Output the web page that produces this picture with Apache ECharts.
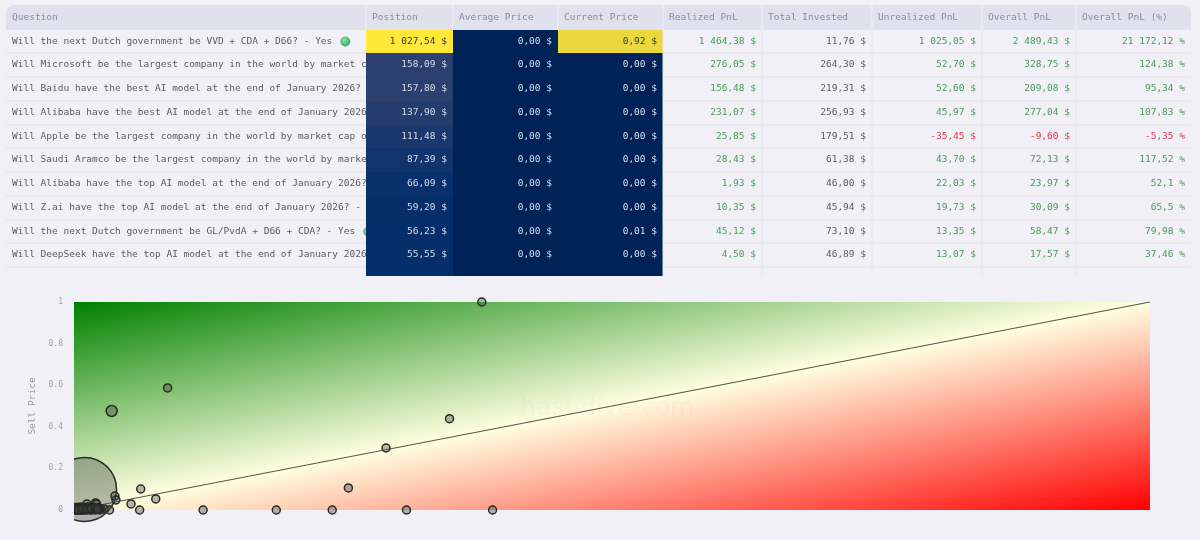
<!DOCTYPE html>
<html><head><meta charset="utf-8">
<style>html,body{margin:0;padding:0;background:#f0f0f6}#c{width:1200px;height:540px}</style>
<script src="https://cdn.jsdelivr.net/npm/echarts@6/dist/echarts.min.js"></script>
</head><body><div id="c"></div>
<script>
const headers=["Question","Position","Average Price","Current Price","Realized PnL","Total Invested","Unrealized PnL","Overall PnL","Overall PnL (%)"];
const questions=[
"Will the next Dutch government be VVD + CDA + D66? - Yes",
"Will Microsoft be the largest company in the world by market c",
"Will Baidu have the best AI model at the end of January 2026?",
"Will Alibaba have the best AI model at the end of January 2026",
"Will Apple be the largest company in the world by market cap o",
"Will Saudi Aramco be the largest company in the world by market",
"Will Alibaba have the top AI model at the end of January 2026?",
"Will Z.ai have the top AI model at the end of January 2026? -",
"Will the next Dutch government be GL/PvdA + D66 + CDA? - Yes",
"Will DeepSeek have the top AI model at the end of January 2026"];
const position=[1027.54,158.09,157.80,137.90,111.48,87.39,66.09,59.20,56.23,55.55];
const averagePrice=[0,0,0,0,0,0,0,0,0,0];
const currentPrice=[0.92,0,0,0,0,0,0,0,0.01,0];
const realizedPnl=[1464.38,276.05,156.48,231.07,25.85,28.43,1.93,10.35,45.12,4.50];
const totalInvested=[11.76,264.30,219.31,256.93,179.51,61.38,46.00,45.94,73.10,46.89];
const unrealizedPnl=[1025.05,52.70,52.60,45.97,-35.45,43.70,22.03,19.73,13.35,13.07];
const overallPnl=[2489.43,328.75,209.08,277.04,-9.60,72.13,23.97,30.09,58.47,17.57];
const overallPct=[21172.12,124.38,95.34,107.83,-5.35,117.52,52.1,65.5,79.98,37.46];
const buyPrice=[0.0098,0.379,0.087,0.035,0.349,0.29,0.255,0.24,0.309,0.389,0.188,0.12,0.061,0.062,0.053,0.076,0.038,0.039,0.033,
0.001,0.003,0.005,0.006,0.008,0.01,0.012,0.013,0.015,0.017,0.012,0.02,0.021,0.023,0.025,0.028,0.002,0.007,0.011,0.016,0.018,0.004,
0.001,0.002,0.003,0.004,0.005,0.006,0.007,0.008,0.009,0.01,0.011,0.012,0.013,0.014,0.015,0.016,0.019,0.02,0.021,0.022,0.023,0.024,0.001,0.003,0.005,0.007,0.009,0.02,0.022,
0.002,0.003,0.004,0.005,0.006,0.007,0.008,0.009,0.01,0.011,0.002,0.004,0.006,0.008,0.01,0.012,0.014,0.016,0.018,0.019,0.021,0.023,0.003,0.005,0.007,0.009,0.011,0.013,0.015,0.017,0.019,0.021,0.024,0.001,0.004,0.008,0.012,0.016,0.02,0.022];
const sellPrice=[0.099,1,0.587,0.476,0.439,0.298,0.106,0,0,0,0,0,0,0.101,0.029,0.053,0.067,0.048,0,
0.005,0.012,0.004,0.014,0.006,0.012,0.003,0.014,0.006,0.012,0.029,0.034,0.029,0.01,0.005,0.005,0.01,0.002,0.008,0.01,0.004,0.008,
0,0.006,0,0.01,0.002,0.007,0,0.011,0.004,0,0.008,0.002,0.006,0.001,0.009,0,0.012,0.002,0.008,0.004,0.01,0,0.012,0.003,0.009,0.002,0.012,0.006,0.002,
0.003,0.009,0.001,0.006,0.011,0.002,0.009,0.001,0.007,0.003,0,0.005,0.001,0.004,0.009,0.001,0.005,0.002,0.009,0.001,0.005,0.007,0.008,0,0.004,0.006,0.004,0.01,0.003,0.007,0.006,0.002,0.007,0.004,0,0.006,0.004,0.006,0.009,0.004];
const pointPosition=[1027.54,16,16,30,16,16,16,16,16,16,16,16,16,16,16,16,16,16,16,
16,16,16,16,16,16,16,16,16,16,16,16,16,16,16,16,16,16,16,16,16,16,
16,16,16,16,16,16,16,16,16,16,16,16,16,16,16,16,16,16,16,16,16,16,16,16,16,16,16,16,16,
16,16,16,16,16,16,16,16,16,16,16,16,16,16,16,16,16,16,16,16,16,16,16,16,16,16,16,16,16,16,16,16,16,16,16,16,16,16,16,16];
const yTicks=[0,0.2,0.4,0.6,0.8,1];
const diagonalX=[0,1], diagonalY=[0,1];

const columnEdges=[6,366,453,558,663,762,872,982,1076,1191];
const FONT='"DejaVu Sans Mono",monospace';
const P={left:74,top:302,w:1076,h:208};
const columns=[null,position,averagePrice,currentPrice,realizedPnl,totalInvested,unrealizedPnl,overallPnl,overallPct];

function money(v,isPct){
  let s=isPct?String(+Math.abs(v).toFixed(2)):Math.abs(v).toFixed(2);
  let [a,b]=s.split('.');
  a=a.replace(/\B(?=(\d{3})+$)/g,' ');
  return (v<0?'-':'')+a+(b?','+b:'')+(isPct?' %':' $');
}
const heatStops=[[0,[0,35,87]],[0.05,[3,46,106]],[0.15,[43,63,112]],[1,[255,232,56]]];
function heat(t){
  t=Math.min(1,Math.max(0,t));
  for(let i=1;i<heatStops.length;i++){
    if(t<=heatStops[i][0]){
      const a=heatStops[i-1],b=heatStops[i],f=(t-a[0])/(b[0]-a[0]);
      return 'rgb('+a[1].map((x,k)=>Math.round(x+(b[1][k]-x)*f)).join(',')+')';
    }
  }
  return 'rgb(255,232,56)';
}
function fillOf(c,r){
  const i=Math.min(r,position.length-1);
  if(c===1) return heat(position[i]/position[0]);
  if(c===2) return heat(averagePrice[i]);
  if(c===3) return currentPrice[i]>0.5?heat(currentPrice[i]):heat(0);
  return null;
}
function textColorOf(c,r){
  if(c===1||c===3) return ((c===1?position[r]/position[0]:currentPrice[r])>0.5)?'#3a3a2a':'#d6dde9';
  if(c===2) return '#d6dde9';
  if(c===0||c===5) return '#5c5c66';
  return columns[c][r]<0?'#e8344e':'#4a9c58';
}

// table cells: [col,row]; row -1 is the header, row == n is the cut-off last row
const cells=[];
for(let r=-1;r<=questions.length;r++) for(let c=0;c<headers.length;c++) cells.push([c,r]);

function renderCell(params,api){
  const c=api.value(0), r=api.value(1), n=questions.length;
  const x0=columnEdges[c], x1=columnEdges[c+1];
  const topV=r===-1?-1.04:r, botV=r===-1?0:(r===n?n+0.37:r+1);
  const y0=Math.round(api.coord([0,topV])[1]), y1=Math.round(api.coord([0,botV])[1]);
  const cy=(y0+y1)/2, kids=[];
  const fill=r>=0?fillOf(c,r):null;
  if(r===-1){
    kids.push({type:'rect',shape:{x:x0,y:y0,width:x1-x0,height:y1-y0,r:c===0?[8,0,0,0]:(c===8?[0,8,0,0]:0)},style:{fill:'#e1e1ee'}});
    if(c>0) kids.push({type:'line',shape:{x1:x0,y1:y0,x2:x0,y2:y1},style:{stroke:'#f0f0f6',lineWidth:1}});
    kids.push({type:'text',style:{x:c===0?12:x0+6,y:cy,text:headers[c],font:'9.5px '+FONT,fill:'#8b8b9b',verticalAlign:'middle',align:'left'}});
  }else if(fill){
    kids.push({type:'rect',shape:{x:x0,y:y0,width:x1-x0,height:y1-y0},style:{fill}});
  }else{
    kids.push({type:'line',shape:{x1:x0,y1:y1,x2:x1,y2:y1},style:{stroke:r===n?'#f0f0f6':'#e3e3ea',lineWidth:1}});
    if(c>3) kids.push({type:'line',shape:{x1:x0,y1:y0,x2:x0,y2:y1},style:{stroke:'#e6e6ee',lineWidth:1}});
  }
  if(r>=0&&r<n){
    if(c===0){
      kids.push({type:'text',style:{x:12,y:cy,text:questions[r],font:'9.5px '+FONT,fill:textColorOf(0,r),verticalAlign:'middle'}});
      if(/Yes$/.test(questions[r])){
        const bx=12+questions[r].length*5.72+13;
        kids.push({type:'circle',shape:{cx:bx,cy:cy,r:5},style:{fill:{type:'radial',x:0.4,y:0.35,r:0.7,colorStops:[{offset:0,color:'#8fe0a0'},{offset:1,color:'#35a56a'}]}}});
      }
    }else{
      kids.push({type:'text',style:{x:x1-6,y:cy,text:money(columns[c][r],c===8),font:'9.5px '+FONT,fill:textColorOf(c,r),verticalAlign:'middle',align:'right'}});
    }
  }
  return {type:'group',children:kids};
}

// colour field: isolines run parallel to the diagonal of the plot
const dl=Math.hypot(P.w,P.h), ux=P.h/dl, uy=P.w/dl;
const cx=P.left+P.w/2, cy=P.top+P.h/2, reach=(P.w/2)*ux+(P.h/2)*uy;
const field={type:'linear',global:true,x:cx-reach*ux,y:cy-reach*uy,x2:cx+reach*ux,y2:cy+reach*uy,
  colorStops:[{offset:0,color:'#008000'},{offset:0.5,color:'#ffffe0'},{offset:1,color:'#ff0000'}]};

const points=buyPrice.map((x,i)=>[x,sellPrice[i],pointPosition[i]]);
const maxPos=Math.max(...pointPosition);
const pad=0.1;

function renderPoint(params,api){
  const p=api.coord([api.value(0),api.value(1)]);
  const size=Math.max(7,Math.sqrt(api.value(2)/maxPos)*64);
  return {type:'circle',shape:{cx:p[0],cy:p[1],r:size/2},style:{fill:'rgba(70,70,70,0.38)',stroke:'#262b24',lineWidth:1.5}};
}

const chart=echarts.init(document.getElementById('c'));
chart.setOption({
  animation:false,
  backgroundColor:'#f0f0f6',
  textStyle:{fontFamily:FONT},
  grid:[
    {left:0,top:5,width:1200,height:271},
    {left:P.left,top:P.top,width:P.w,height:P.h,show:true,borderWidth:0,backgroundColor:field},
    {left:P.left,top:P.top-P.h*pad,width:P.w+20,height:P.h*(1+2*pad)}
  ],
  xAxis:[
    {gridIndex:0,type:'value',min:0,max:1200,show:false},
    {gridIndex:1,type:'value',min:0,max:1,show:false},
    {gridIndex:2,type:'value',min:0,max:1+20/P.w,show:false}
  ],
  yAxis:[
    {gridIndex:0,type:'value',min:-1.04,max:questions.length+0.37,inverse:true,show:false},
    {gridIndex:1,type:'value',min:0,max:1,interval:0.2,name:'Sell Price',nameLocation:'middle',nameGap:33,
      nameTextStyle:{color:'#999aa6',fontSize:9.5,fontFamily:FONT},
      axisLine:{show:false},axisTick:{show:false},splitLine:{show:false},
      axisLabel:{color:'#a2a2ae',fontSize:8,margin:11,fontFamily:FONT,padding:[3,0,0,0]}},
    {gridIndex:2,type:'value',min:-pad,max:1+pad,show:false}
  ],
  graphic:[{type:'text',z:3,left:520,top:396,style:{text:'hashdive.com',font:'25px "DejaVu Sans",sans-serif',fill:'rgba(150,150,150,0.05)'}}],
  series:[
    {type:'custom',xAxisIndex:0,yAxisIndex:0,clip:false,silent:true,data:cells,renderItem:renderCell,encode:{x:0,y:1}},
    {type:'line',xAxisIndex:1,yAxisIndex:1,data:diagonalX.map((x,i)=>[x,diagonalY[i]]),symbol:'none',silent:true,z:4,
      lineStyle:{color:'#55584a',width:1.2}},
    {type:'custom',xAxisIndex:2,yAxisIndex:2,data:points,z:5,silent:true,clip:true,renderItem:renderPoint,encode:{x:0,y:1}}
  ]
});
</script></body></html>
